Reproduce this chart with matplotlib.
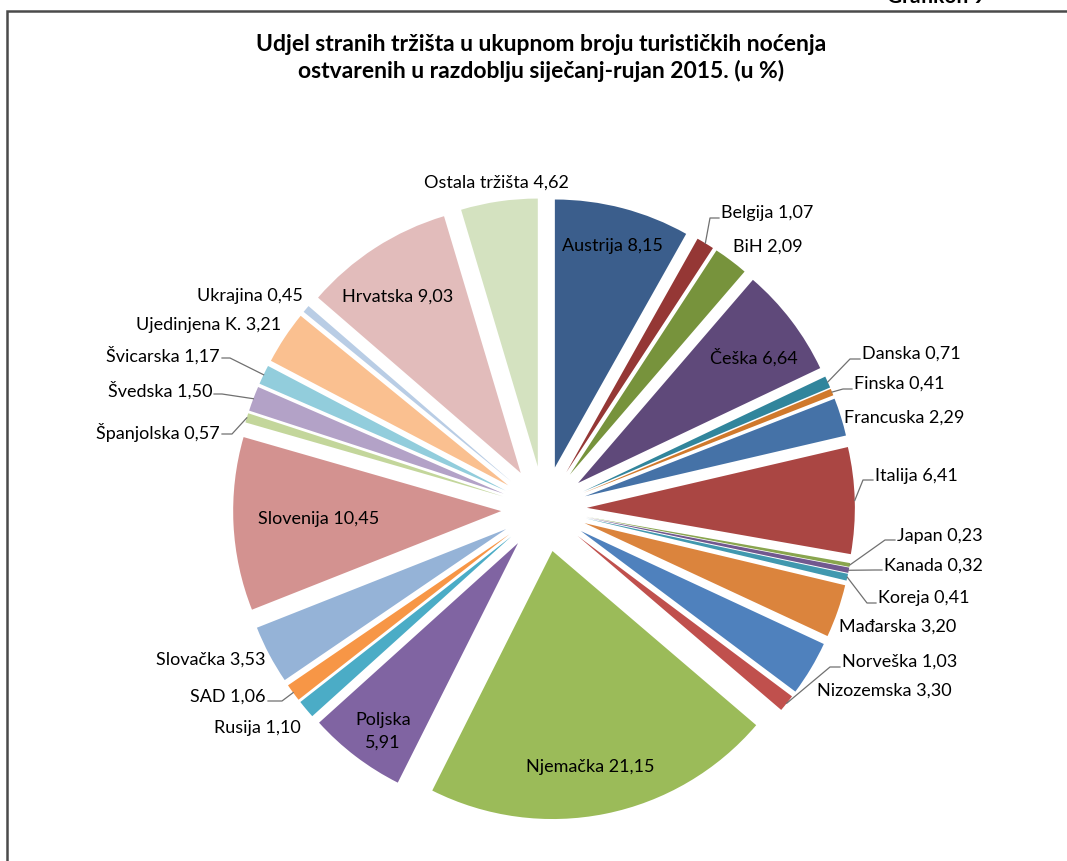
import math
import matplotlib
matplotlib.use("Agg")
import matplotlib.pyplot as plt

plt.rcParams['font.family'] = ['Lato', 'DejaVu Sans']

title = "Udjel stranih tržišta u ukupnom broju turističkih noćenja\nostvarenih u razdoblju siječanj-rujan 2015. (u %)"
header = "Grafikon 9"

countries = ["Austrija", "Belgija", "BiH", "Češka", "Danska", "Finska", "Francuska",
             "Italija", "Japan", "Kanada", "Koreja", "Mađarska", "Nizozemska",
             "Norveška", "Njemačka", "Poljska", "Rusija", "SAD", "Slovačka",
             "Slovenija", "Španjolska", "Švedska", "Švicarska", "Ujedinjena K.",
             "Ukrajina", "Hrvatska", "Ostala tržišta"]
values = [8.15, 1.07, 2.09, 6.64, 0.71, 0.41, 2.29, 6.41, 0.23, 0.32, 0.41, 3.20,
          3.30, 1.03, 21.15, 5.91, 1.10, 1.06, 3.53, 10.45, 0.57, 1.50, 1.17, 3.21,
          0.45, 9.03, 4.62]

colors = ["#3B5E8C", "#953735", "#77933C", "#5F497A", "#31859C", "#D0792C", "#4572A7",
          "#AA4643", "#89A54E", "#71588F", "#4198AF", "#DB843D", "#4F81BD",
          "#C0504D", "#9BBB59", "#8064A2", "#4BACC6", "#F79646", "#95B3D7",
          "#D39290", "#C3D69B", "#B3A2C7", "#92CDDC", "#FAC090",
          "#B9CDE5", "#E2BCBB", "#D4E2C0"]

# label layout in image pixels: (x, y, ha, elbow)  elbow -> (ex, ey, endx)
layout = {
    "Austrija": (612, 246, "center", None),
    "Belgija": (721, 213, "left", (710, 218, 719)),
    "BiH": (733, 247, "left", None),
    "Češka": (754, 357, "center", None),
    "Danska": (862, 354, "left", (850, 359, 860)),
    "Finska": (854, 384, "left", (843, 389, 852)),
    "Francuska": (844, 418, "left", None),
    "Italija": (875, 476, "left", (863, 480, 873)),
    "Japan": (897, 536, "left", (885, 540, 895)),
    "Kanada": (884, 566, "left", (875, 570, 882)),
    "Koreja": (878, 598, "left", (867, 603, 876)),
    "Mađarska": (839, 627, "left", None),
    "Nizozemska": (817, 691, "left", None),
    "Norveška": (842, 662, "left", (830, 667, 840)),
    "Njemačka": (590, 767, "center", None),
    "Poljska": (383, 731, "center", None),
    "Rusija": (301, 728, "right", None),
    "SAD": (266, 697, "right", (282, 701, 268)),
    "Slovačka": (265, 660, "right", None),
    "Slovenija": (319, 519, "center", None),
    "Španjolska": (220, 433, "right", (232, 434, 222)),
    "Švedska": (212, 390, "right", (222, 394, 214)),
    "Švicarska": (220, 355, "right", (230, 358, 222)),
    "Ujedinjena K.": (281, 325, "right", None),
    "Ukrajina": (303, 296, "right", None),
    "Hrvatska": (398, 297, "center", None),
    "Ostala tržišta": (496, 183, "center", None),
}

W, H = 1067, 861
CX, CY, R = 544, 509, 268
EXPL = 0.16
L = 1.3

fig = plt.figure(figsize=(W / 100, H / 100), dpi=100)
fig.patch.set_facecolor("white")

half = L * R
axp = fig.add_axes([(CX - half) / W, (H - CY - half) / H, 2 * half / W, 2 * half / H])
wedges, _ = axp.pie(values, colors=colors, startangle=90, counterclock=False,
                    explode=[EXPL] * len(values), radius=1.0,
                    wedgeprops=dict(linewidth=0))
axp.set_xlim(-L, L)
axp.set_ylim(-L, L)
axp.axis("off")

ax = fig.add_axes([0, 0, 1, 1], facecolor="none")
ax.set_xlim(0, W)
ax.set_ylim(H, 0)
ax.axis("off")

# frame
ax.plot([7, 7, W + 5], [H + 5, 11, 11], color="#4a4a4a", lw=1.8, solid_joinstyle="miter")
ax.text(887, 3, header, ha="left", va="baseline", fontsize=15, fontweight="bold", color="black")

ax.text(541, 58, title, ha="center", va="center", fontsize=16.5, fontweight="bold",
        linespacing=1.3, color="black")

for w, name, val in zip(wedges, countries, values):
    x, y, ha, elbow = layout[name]
    vs = f"{val:.2f}".replace(".", ",")
    txt = f"{name}\n{vs}" if name == "Poljska" else f"{name} {vs}"
    ax.text(x, y, txt, ha=ha, va="center", fontsize=13, color="black",
            linespacing=1.5 if name == "Poljska" else 1.0)
    if elbow is not None:
        tm = math.radians((w.theta1 + w.theta2) / 2)
        cx0 = CX + R * EXPL * math.cos(tm)
        cy0 = CY - R * EXPL * math.sin(tm)
        sx = cx0 + R * math.cos(tm)
        sy = cy0 - R * math.sin(tm)
        ex, ey, endx = elbow
        ax.plot([sx, ex, endx], [sy, ey, ey], color="#707070", lw=0.9)

fig.savefig("out.png", dpi=100, facecolor="white")
